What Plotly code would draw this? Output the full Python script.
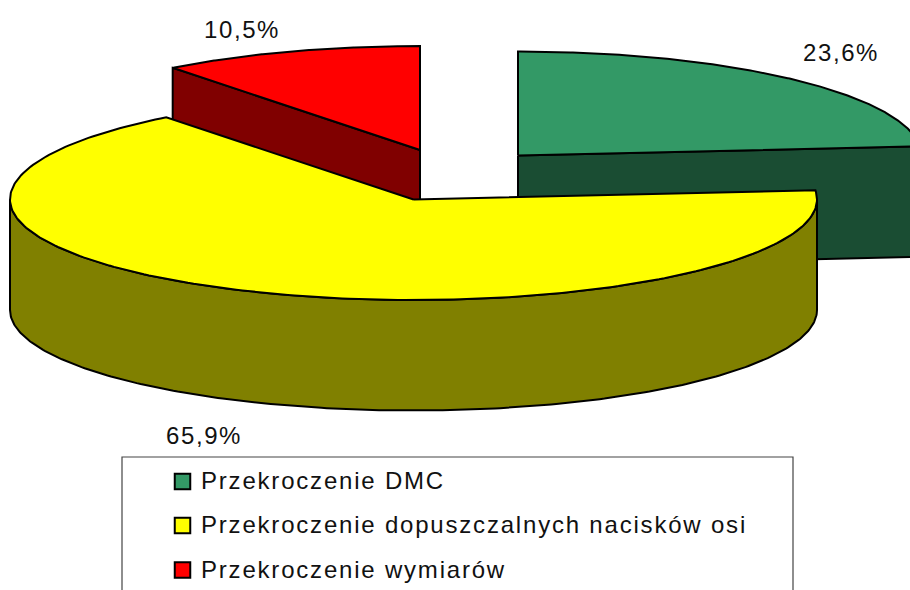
import numpy as np
import plotly.graph_objects as go

# --- data ---
categories = ["Przekroczenie DMC",
              "Przekroczenie dopuszczalnych nacisków osi",
              "Przekroczenie wymiarów"]
shares = [23.6, 65.9, 10.5]
top_colors = ["#339966", "#FFFF00", "#FF0000"]
wall_colors = ["#1A4D33", "#808000", "#800000"]

# --- layout of the drawing (pixel space of the 910x590 page) ---
W, H = 910, 590
RX, RY_BACK, RY_FRONT, DEPTH = 403.5, 104.0, 100.5, 110.5
centers = [(518.0, 155.5), (413.5, 199.5), (420.0, 150.0)]
label_xy = [(841, 52), (204, 435), (242, 29)]
FONT = "Liberation Sans, Arial, sans-serif"
SIZE = 24


def pt(c, deg):
    t = np.radians(deg)
    co = np.cos(t)
    return c[0] + RX * np.sin(t), c[1] - np.where(co > 0, RY_BACK, RY_FRONT) * co


def arc(c, a, b):
    return pt(c, np.linspace(a, b, 240))


def poly(fig, xs, ys, color, width=2):
    xs, ys = list(xs), list(ys)
    fig.add_trace(go.Scatter(x=xs + [xs[0]], y=ys + [ys[0]], mode="lines",
                             fill="toself", fillcolor=color,
                             line=dict(color="black", width=width),
                             hoverinfo="skip", showlegend=False))


fig = go.Figure()
edges = np.concatenate([[0], np.cumsum(shares)]) / sum(shares) * 360

for i in [0, 2, 1]:
    c, a, b = centers[i], edges[i], edges[i + 1]
    ax, ay = arc(c, a, b)
    if i == 1:
        # curved outer wall, front half of the ellipse only
        wx, wy = arc(c, max(a, 90), min(b, 270))
        poly(fig, np.r_[wx, wx[::-1]], np.r_[wy, wy[::-1] + DEPTH], wall_colors[i])
    else:
        # flat cut face towards the viewer
        ex, ey = pt(c, b if i == 0 else a)
        poly(fig, [c[0], ex, ex, c[0]], [c[1], ey, ey + DEPTH, c[1] + DEPTH], wall_colors[i])
    poly(fig, np.r_[c[0], ax], np.r_[c[1], ay], top_colors[i])

# percentage labels
for v, (x, y) in zip(shares, label_xy):
    fig.add_annotation(x=x, y=y, text=f"{v:.1f}%".replace(".", ","), showarrow=False,
                       font=dict(family=FONT, size=SIZE, color="#111111"),
                       xanchor="center", yanchor="middle")

# legend box (open at the bottom: it is cut by the page edge)
fig.add_trace(go.Scatter(x=[122, 122, 793, 793], y=[595, 457, 457, 595], mode="lines",
                         line=dict(color="#444444", width=1.2), hoverinfo="skip", showlegend=False))
legend_y = [481.5, 525.5, 570]
for name, col, y in zip(categories, top_colors, legend_y):
    fig.add_trace(go.Scatter(x=[182.5], y=[y], mode="markers",
                             marker=dict(symbol="square", size=15.5, color=col,
                                         line=dict(color="black", width=2)),
                             hoverinfo="skip", showlegend=False))
    fig.add_annotation(x=199, y=y - 1, text=name, showarrow=False, align="left",
                       font=dict(family=FONT, size=SIZE, color="#111111"),
                       xanchor="left", yanchor="middle")

fig.update_layout(width=W, height=H, margin=dict(l=0, r=0, t=0, b=0),
                  paper_bgcolor="white", plot_bgcolor="white", showlegend=False)
fig.update_xaxes(range=[0, W], visible=False, fixedrange=True)
fig.update_yaxes(range=[H, 0], visible=False, fixedrange=True)

post = """
document.documentElement.style.margin='0';
document.documentElement.style.overflow='hidden';
document.body.style.margin='0';
document.querySelectorAll('.annotation-text').forEach(function(t){
  t.style.letterSpacing = t.textContent.indexOf('%') >= 0 ? '1.6px' : '1.8px';
});
"""
fig.write_html("out.html", config={"displayModeBar": False}, post_script=post)
